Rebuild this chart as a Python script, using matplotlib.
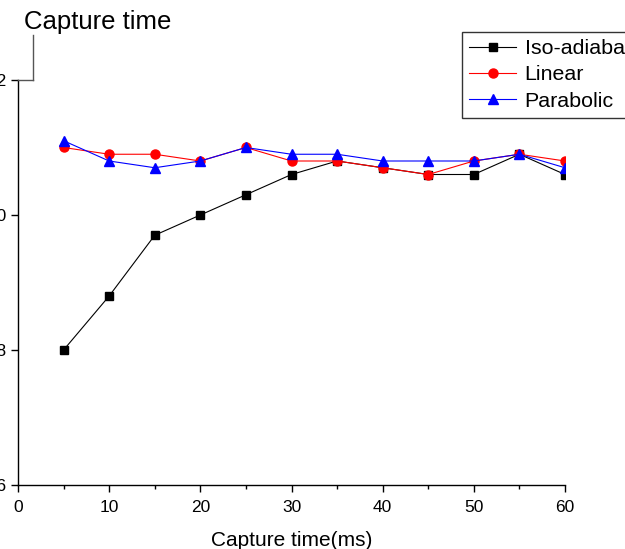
import matplotlib
matplotlib.use("Agg")
import matplotlib.pyplot as plt
from matplotlib.lines import Line2D
from matplotlib.ticker import MultipleLocator

plt.rcParams['font.family'] = ['Liberation Sans', 'DejaVu Sans']

x = [5, 10, 15, 20, 25, 30, 35, 40, 45, 50, 55, 60]
iso = [0.80, 0.88, 0.97, 1.00, 1.03, 1.06, 1.08, 1.07, 1.06, 1.06, 1.09, 1.06]
linear = [1.10, 1.09, 1.09, 1.08, 1.10, 1.08, 1.08, 1.07, 1.06, 1.08, 1.09, 1.08]
parab = [1.11, 1.08, 1.07, 1.08, 1.10, 1.09, 1.09, 1.08, 1.08, 1.08, 1.09, 1.07]
labels = ['Iso-adiabatic', 'Linear', 'Parabolic']
yticks = [0.6, 0.8, 1.0, 1.2]

W, H = 625, 549
fig = plt.figure(figsize=(W / 100, H / 100), dpi=100)
ax = fig.add_axes([18 / W, 1 - 485 / H, (565 - 18) / W, (485 - 80) / H])

ax.plot(x, iso, color='black', lw=0.8, marker='s', ms=6, mfc='black', mec='black', label=labels[0])
ax.plot(x, linear, color='red', lw=0.8, marker='o', ms=6.5, mfc='red', mec='red', label=labels[1])
ax.plot(x, parab, color='blue', lw=0.8, marker='^', ms=7, mfc='blue', mec='blue', label=labels[2])

ax.set_xlim(0, 60)
ax.set_ylim(0.6, 1.2)
ax.xaxis.set_major_locator(MultipleLocator(10))
ax.xaxis.set_minor_locator(MultipleLocator(5))
ax.set_yticks(yticks)
ax.set_yticklabels([f"{v:.1f}" for v in yticks])
ax.tick_params(which='major', direction='out', length=5, width=1, labelsize=12.5, pad=3)
ax.tick_params(axis='x', which='major', pad=6)
ax.tick_params(which='minor', direction='out', length=2.8, width=1)
for s in ['top', 'right']:
    ax.spines[s].set_visible(False)
for s in ['left', 'bottom']:
    ax.spines[s].set_linewidth(1)

ax.set_xlabel('Capture time(ms)', fontsize=15, labelpad=11)

# y-axis title callout at top
fig.add_artist(Line2D([18 / W, 33 / W], [1 - 80 / H, 1 - 80 / H], color='#555555', lw=1,
                      transform=fig.transFigure))
fig.add_artist(Line2D([33 / W, 33 / W], [1 - 80 / H, 1 - 35 / H], color='#555555', lw=1,
                      transform=fig.transFigure))
fig.text(24 / W, 1 - 29 / H, 'Capture time', fontsize=18.5, ha='left', va='baseline')

leg = ax.legend(loc='upper left', bbox_to_anchor=(462 / W, 1 - 32 / H),
                bbox_transform=fig.transFigure, frameon=True, fancybox=False,
                edgecolor='black', fontsize=15.4, handlelength=2.2, handletextpad=0.4,
                labelspacing=0.34, borderpad=0.33, borderaxespad=0)
leg.get_frame().set_linewidth(1)

fig.savefig('out.png', dpi=100)
